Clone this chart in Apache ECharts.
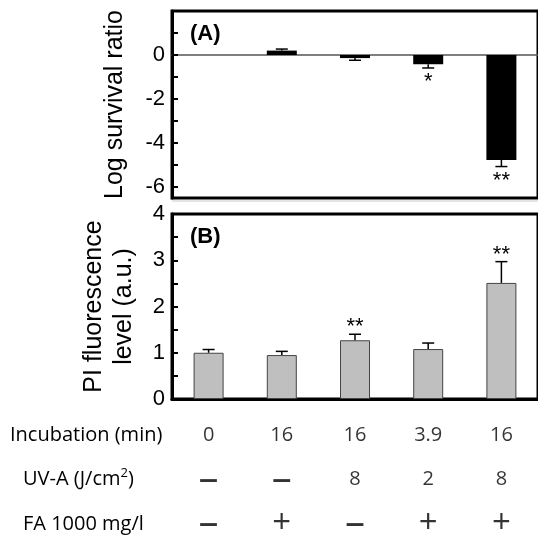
<!DOCTYPE html>
<html>
<head>
<meta charset="utf-8">
<script src="https://cdn.jsdelivr.net/npm/echarts@6.0.0/dist/echarts.min.js"></script>
<style>
  html, body { margin: 0; padding: 0; background: #fff; }
  #chart { width: 538px; height: 546px; }
</style>
</head>
<body>
<div id="chart"></div>
<script>
// groups (columns of the condition table)
var groups = ['G1', 'G2', 'G3', 'G4', 'G5']

// (A) log survival ratio
var survival = [0, 0.20, -0.14, -0.42, -4.77]
var survivalErr = [null, 0.07, 0.10, 0.17, 0.30]
var survivalStars = ['', '', '', '*', '**']

// (B) PI fluorescence level
var piLevel = [1.00, 0.95, 1.27, 1.08, 2.51]
var piErr = [0.07, 0.08, 0.13, 0.13, 0.46]
var piStars = ['', '', '**', '', '**']

// condition table
var rowNames = ['Incubation (min)', 'UV-A (J/cm2)', 'FA 1000 mg/l']
var incubation = ['0', '16', '16', '3.9', '16']
var uva = ['–', '–', '8', '2', '8']
var fa = ['–', '+', '–', '+', '+']

var survivalTicks = [-6, -5, -4, -3, -2, -1, 0, 1]
var survivalLabels = [-6, -4, -2, 0]
var piTicks = [0, 0.5, 1, 1.5, 2, 2.5, 3, 3.5, 4]
var piLabels = [0, 1, 2, 3, 4]

var axisFont = 'Liberation Sans'

function errorSeries(values, errs, stars, idx) {
  var data = []
  values.forEach(function (v, i) {
    if (errs[i] != null) data.push([i, v, errs[i]])
  })
  return {
    type: 'custom',
    xAxisIndex: idx,
    yAxisIndex: idx,
    z: 5,
    data: data,
    renderItem: function (params, api) {
      var i = api.value(0), v = api.value(1), e = api.value(2)
      var down = v < 0
      var base = api.coord([i, v])
      var end = api.coord([i, down ? v - e : v + e])
      var cap = 6
      var kids = [
        { type: 'line', shape: { x1: base[0], y1: base[1], x2: end[0], y2: end[1] },
          style: { stroke: '#000', lineWidth: 1.5 } },
        { type: 'line', shape: { x1: end[0] - cap, y1: end[1], x2: end[0] + cap, y2: end[1] },
          style: { stroke: '#000', lineWidth: 1.5 } }
      ]
      if (stars[i]) {
        kids.push({
          type: 'text', x: end[0], y: down ? end[1] + 14 : end[1] - 7,
          style: { text: stars[i], fill: '#000', fontSize: 22, fontFamily: axisFont,
                   align: 'center', verticalAlign: 'middle' }
        })
      }
      return { type: 'group', children: kids }
    }
  }
}

var tableData = []
;[incubation, uva, fa].forEach(function (row, r) {
  row.forEach(function (t, c) { tableData.push([c, r, t]) })
})

var chart = echarts.init(document.getElementById('chart'))

chart.setOption({
  animation: false,
  title: [
    { text: '(A)', left: 190, top: 23, padding: 0,
      textStyle: { fontSize: 22, fontWeight: 'bold', fontFamily: axisFont, color: '#000' } },
    { text: '(B)', left: 190, top: 226, padding: 0,
      textStyle: { fontSize: 22, fontWeight: 'bold', fontFamily: axisFont, color: '#000' } }
  ],
  graphic: [
    { type: 'rect', left: 172, top: 200, shape: { width: 366, height: 2 }, style: { fill: '#e4e4e4' } }
  ],
  grid: [
    { left: 172, top: 11, width: 370, height: 187, show: true, borderColor: '#000', borderWidth: 3 },
    { left: 172, top: 214, width: 370, height: 185, show: true, borderColor: '#000', borderWidth: 3 },
    { left: 172, top: 413, width: 370, height: 135 }
  ],
  xAxis: [
    { type: 'category', gridIndex: 0, data: groups,
      axisLine: { onZero: true, lineStyle: { color: '#555', width: 1.5 } },
      axisTick: { show: false }, axisLabel: { show: false } },
    { type: 'category', gridIndex: 1, data: groups,
      axisLine: { lineStyle: { color: '#000', width: 3 } },
      axisTick: { show: false }, axisLabel: { show: false } },
    { type: 'category', gridIndex: 2, data: groups, show: false }
  ],
  yAxis: [
    { type: 'value', gridIndex: 0, min: -6.5, max: 2,
      name: 'Log survival ratio', nameLocation: 'middle', nameGap: 44,
      nameTextStyle: { fontSize: 25, fontFamily: axisFont, color: '#000' },
      axisLine: { show: true, lineStyle: { color: '#000', width: 3 } },
      axisTick: { show: true, inside: true, length: 6, customValues: survivalTicks,
                  lineStyle: { color: '#000', width: 2 } },
      axisLabel: { customValues: survivalLabels, fontSize: 22, fontFamily: axisFont, color: '#000', margin: 7 },
      splitLine: { show: false } },
    { type: 'value', gridIndex: 1, min: 0, max: 4,
      name: 'PI fluorescence\nlevel (a.u.)', nameLocation: 'middle', nameGap: 33,
      nameTextStyle: { fontSize: 25, lineHeight: 30, fontFamily: axisFont, color: '#000', align: 'center' },
      axisLine: { show: true, lineStyle: { color: '#000', width: 3 } },
      axisTick: { show: true, inside: true, length: 6, customValues: piTicks,
                  lineStyle: { color: '#000', width: 2 } },
      axisLabel: { customValues: piLabels, fontSize: 22, fontFamily: axisFont, color: '#000', margin: 7 },
      splitLine: { show: false } },
    { type: 'category', gridIndex: 2, data: rowNames, inverse: true,
      axisLine: { show: false }, axisTick: { show: false }, splitLine: { show: false },
      axisLabel: {
        align: 'left', margin: 162,
        formatter: function (v, i) {
          if (i === 0) return '{n|' + v + '}'
          if (v.indexOf('cm2') >= 0) return '{p|}{n|' + v.replace('cm2)', 'cm') + '}{sup|2}{n|)}'
          return '{p|}{n|' + v + '}'
        },
        rich: {
          n: { fontSize: 20, fontFamily: 'Open Sans', color: '#000' },
          p: { width: 13 },
          sup: { fontSize: 13, fontFamily: 'Open Sans', color: '#000', padding: [0, 0, 12, 0] }
        }
      } }
  ],
  series: [
    { type: 'bar', xAxisIndex: 0, yAxisIndex: 0, data: survival, barWidth: 30,
      itemStyle: { color: '#000' } },
    errorSeries(survival, survivalErr, survivalStars, 0),
    { type: 'bar', xAxisIndex: 1, yAxisIndex: 1, data: piLevel, barWidth: 30,
      itemStyle: { color: '#bfbfbf', borderColor: '#444', borderWidth: 1 } },
    errorSeries(piLevel, piErr, piStars, 1),
    { type: 'scatter', xAxisIndex: 2, yAxisIndex: 2, data: tableData, symbolSize: 1,
      itemStyle: { color: 'transparent' },
      label: {
        show: true, position: 'inside',
        formatter: function (p) {
          var t = p.data[2]
          if (t === '+') return '{pl|+}'
          if (t === '–') return '{d|–}'
          return '{n|' + t + '}'
        },
        rich: {
          n: { fontSize: 20, fontFamily: 'Open Sans', color: '#000' },
          pl: { fontSize: 33, fontFamily: 'Open Sans', color: '#000' },
          d: { fontSize: 40, fontFamily: 'Open Sans', color: '#000' }
        }
      } }
  ]
})
</script>
</body>
</html>
